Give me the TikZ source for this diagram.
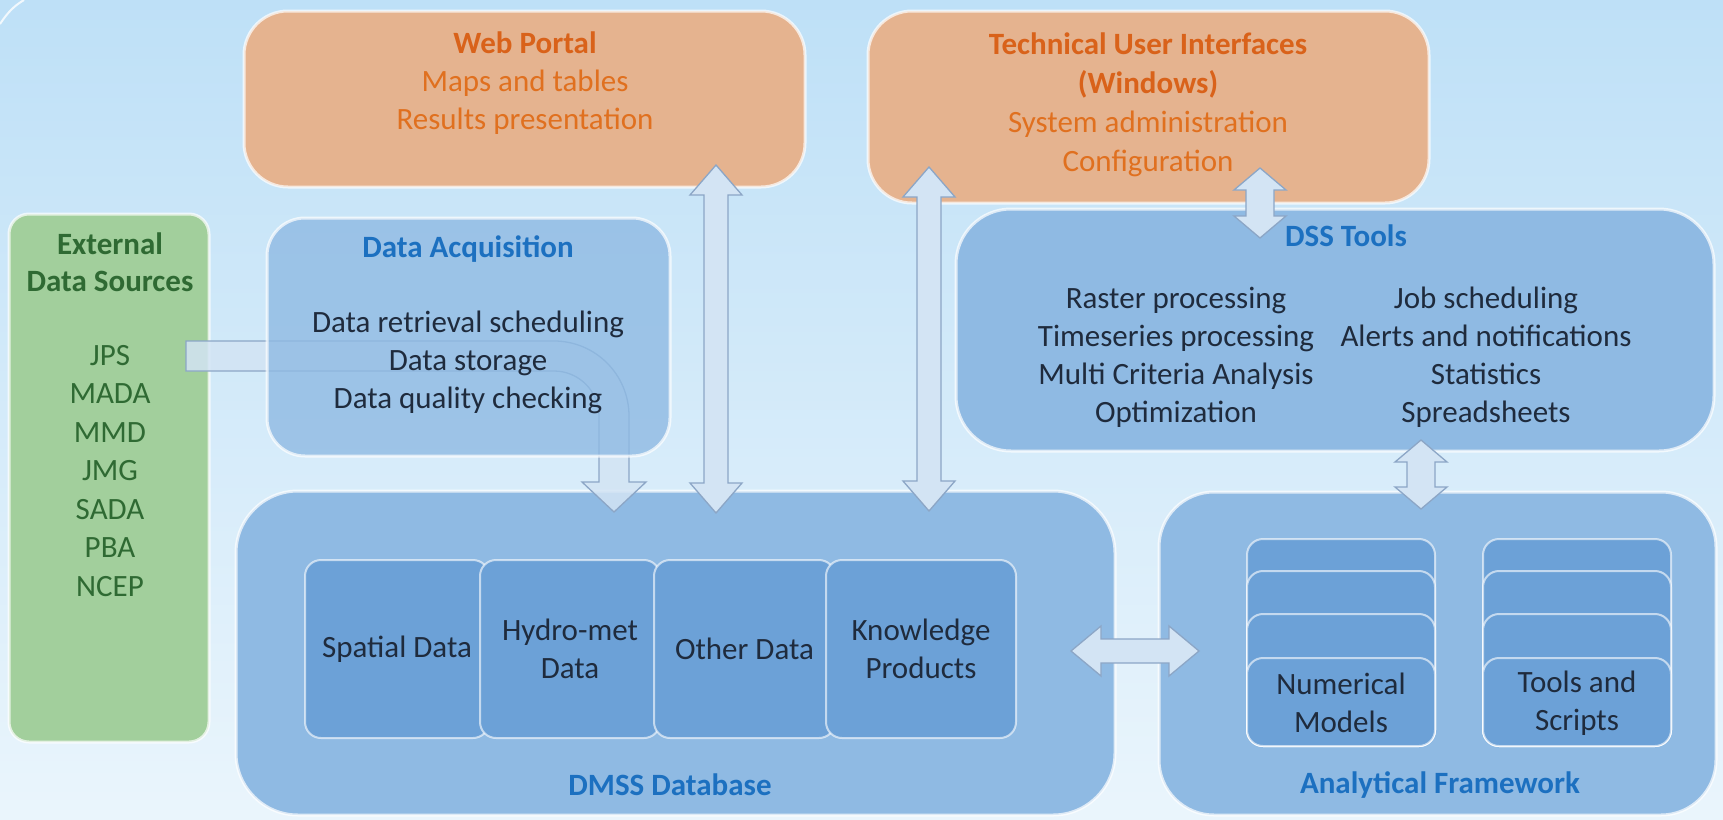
\documentclass[tikz,border=0pt]{standalone}
\usepackage{fontspec}
\setmainfont{Carlito}
\definecolor{bgtop}{HTML}{BEE0F7}
\definecolor{bgbot}{HTML}{EAF5FC}
\definecolor{peach}{HTML}{E5B38F}
\definecolor{orangetxt}{HTML}{E0701F}
\definecolor{orangetitle}{HTML}{D9621A}
\definecolor{greenfill}{HTML}{A2CF9C}
\definecolor{greentxt}{HTML}{2F6A33}
\definecolor{bluefill}{HTML}{8FBAE3}
\definecolor{innerfill}{HTML}{6CA1D7}
\definecolor{bluetitle}{HTML}{1C70C0}
\definecolor{bodytxt}{HTML}{1F2B3D}
\definecolor{arrfill}{HTML}{D3E4F4}
\definecolor{arrdraw}{HTML}{8CA6C6}
\newcommand\dblvarrow[6]{%
  \draw[blockarrow] (#1,#2) -- ({#1+#5},{#2+#6}) -- ({#1+#4},{#2+#6}) -- ({#1+#4},{#3-#6})
    -- ({#1+#5},{#3-#6}) -- (#1,#3) -- ({#1-#5},{#3-#6}) -- ({#1-#4},{#3-#6})
    -- ({#1-#4},{#2+#6}) -- ({#1-#5},{#2+#6}) -- cycle;}
\begin{document}
\begin{tikzpicture}[x=1pt,y=-1pt,
  glow/.style={draw=white,draw opacity=0.7,line width=3pt},
  peachbox/.style={glow,fill=peach,rounded corners=44pt},
  greenbox/.style={glow,fill=greenfill,rounded corners=20pt},
  bluebox/.style={glow,fill=bluefill},
  innerbox/.style={draw=white,draw opacity=0.6,line width=2pt,fill=innerfill,rounded corners=16pt},
  blockarrow/.style={fill=arrfill,draw=arrdraw,line width=1.3pt,line join=miter},
  txt/.style={font=\fontsize{31}{38}\selectfont,align=center,inner sep=0pt},
  body/.style={txt,text=bodytxt},
  btitle/.style={txt,text=bluetitle,font=\fontsize{31}{38}\selectfont\bfseries},
  otxt/.style={txt,text=orangetxt},
  gtxt/.style={txt,text=greentxt}]
\useasboundingbox (0,0) rectangle (1723,819);
\shade[top color=bgtop,bottom color=bgbot] (0,0) rectangle (1723,819);
\draw[white,opacity=0.8,line width=2pt] (0,24) .. controls (8,12) and (14,6) .. (24,0);

% top boxes
\node[peachbox,minimum width=561pt,minimum height=176pt] (web) at (524.5,99) {};
\node[peachbox,minimum width=561pt,minimum height=192pt] (tui) at (1148.5,107) {};
% left boxes
\node[greenbox,minimum width=200pt,minimum height=528pt] (ext) at (109,478) {};
% main boxes
\node[bluebox,rounded corners=55pt,minimum width=758pt,minimum height=242pt] (dss) at (1335,330) {};
\node[bluebox,rounded corners=62pt,minimum width=879pt,minimum height=324pt] (dmss) at (675.5,653) {};
\node[bluebox,rounded corners=55pt,minimum width=557pt,minimum height=323pt] (af) at (1437.5,653.5) {};

% curved arrow from external sources
\draw[blockarrow,fill opacity=0.85] (186,341) -- (554,341)
  .. controls (595.4,341) and (629,374.6) .. (629,416) -- (629,482) -- (646,482)
  -- (614,512) -- (582,482) -- (599,482) -- (599,416)
  .. controls (599,391.2) and (578.8,371) .. (554,371) -- (186,371) -- cycle;
\node[bluebox,rounded corners=38pt,fill opacity=0.8,minimum width=403pt,minimum height=238pt] (acq) at (468.5,337) {};

% inner data boxes
\node[innerbox,minimum width=184pt,minimum height=178pt] (spat) at (397,649) {};
\node[innerbox,minimum width=180pt,minimum height=178pt] (hydro) at (570,649) {};
\node[innerbox,minimum width=181pt,minimum height=178pt] (other) at (744.5,649) {};
\node[innerbox,minimum width=190pt,minimum height=178pt] (know) at (921,649) {};

% stacks
\foreach \t/\n in {538/a,570/b,613/c,657/d}{
  \node[innerbox,minimum width=188pt,minimum height={745-\t},anchor=north] (nm\n) at (1341,\t) {};
  \node[innerbox,minimum width=188pt,minimum height={745-\t},anchor=north] (ts\n) at (1577,\t) {};
}

% arrows
\dblvarrow{716}{165}{513}{12}{26}{30}
\dblvarrow{929}{167}{511}{12}{26}{30}
\dblvarrow{1260}{168}{238}{14}{26}{22}
\dblvarrow{1421}{440}{509}{14}{26}{22}
\draw[blockarrow] (1071,651) -- (1101,626) -- (1101,639) -- (1169,639) -- (1169,626) -- (1199,651)
  -- (1169,676) -- (1169,663) -- (1101,663) -- (1101,676) -- cycle;

% texts
\node[otxt] (webtxt) at (525,83) {{\bfseries\color{orangetitle}Web Portal}\\Maps and tables\\Results presentation};
\node[otxt,font=\fontsize{31}{39}\selectfont] (tuitxt) at (1148,105) {{\bfseries\color{orangetitle}Technical User Interfaces}\\{\bfseries\color{orangetitle}(Windows)}\\System administration\\Configuration};
\node[gtxt,font=\fontsize{31}{37}\selectfont\bfseries] (exttitle) at (110,262) {External\\Data Sources};
\node[gtxt,font=\fontsize{31}{38.5}\selectfont] (extlist) at (110,471) {JPS\\MADA\\MMD\\JMG\\SADA\\PBA\\NCEP};
\node[btitle] (acqtitle) at (468,249) {Data Acquisition};
\node[body] (acqtxt) at (468,362) {Data retrieval scheduling\\Data storage\\Data quality checking};
\node[btitle] (dsstitle) at (1346,236) {DSS Tools};
\node[body] (dssl) at (1176,357) {Raster processing\\Timeseries processing\\Multi Criteria Analysis\\Optimization};
\node[body] (dssr) at (1486,357) {Job scheduling\\Alerts and notifications\\Statistics\\Spreadsheets};
\node[btitle] (dmsstitle) at (670,785) {DMSS Database};
\node[btitle] (aftitle) at (1440,785) {Analytical Framework};
\node[body] (spattxt) at (spat) {Spatial Data};
\node[body] (hydrotxt) at (hydro) {Hydro-met\\Data};
\node[body] (othertxt) at (other) {Other Data};
\node[body] (knowtxt) at (know) {Knowledge\\Products};
\node[body] (nmtxt) at (1341,703) {Numerical\\Models};
\node[body] (tstxt) at (1577,703) {Tools and\\Scripts};
\end{tikzpicture}
\end{document}
